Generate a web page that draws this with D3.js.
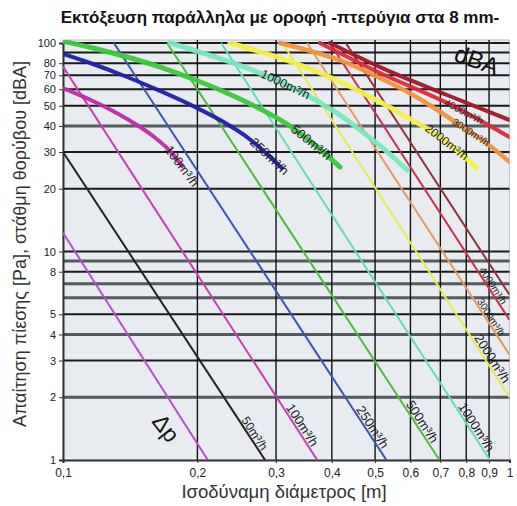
<!DOCTYPE html>
<html><head><meta charset="utf-8">
<script src="https://cdn.jsdelivr.net/npm/d3@7"></script>
<style>
body{margin:0;background:#fff;}
svg text{font-family:"Liberation Sans",Arial,sans-serif;}
</style></head><body>
<svg id="chart" width="517" height="506"></svg>
<script>
// ---- texts ----
const title = "Εκτόξευση παράλληλα με οροφή  -πτερύγια στα 8 mm-";
const xLabel = "Ισοδύναμη διάμετρος [m]";
const yLabel = "Απαίτηση πίεσης [Pa], στάθμη θορύβου [dBA]";

// ---- axes ----
const xTicks = [0.1, 0.2, 0.3, 0.4, 0.5, 0.6, 0.7, 0.8, 0.9, 1];
const xTickLabels = ["0,1", "0,2", "0,3", "0,4", "0,5", "0,6", "0,7", "0,8", "0,9", "1"];
const yGrid = [2, 3, 4, 5, 6, 7, 8, 9, 10, 20, 30, 40, 50, 60, 70, 80, 90, 100];
const yGridHeavy = [2, 4, 6, 7, 9, 40];
const yTickValues = [1, 2, 3, 4, 5, 8, 10, 20, 30, 40, 50, 60, 70, 80, 100];

// ---- pressure drop (straight lines): endpoints [diameter m, Pa] ----
const dpFlow   = ["", "50", "100", "250", "500", "1000", "2000", "3000", "4000", ""];
const dpStart  = [[0.1, 12.3], [0.1, 30], [0.1, 77], [0.130, 100], [0.171, 100], [0.226, 100], [0.310, 100], [0.352, 100], [0.396, 100], [0.430, 100]];
const dpEnd    = [[0.211, 1], [0.2835, 1], [0.371, 1], [0.530, 1], [0.697, 1], [0.904, 1], [1, 2.0], [1, 3.2], [1, 4.7], [1, 6.2]];
const dpColor  = ["#b44fd0", "#222222", "#c83cb4", "#3a55b4", "#4cbc3c", "#62dcb4", "#e8ea50", "#e49a64", "#c8304c", "#94303c"];
const dpLabelD = [null, 0.262, 0.334, 0.48, 0.62, 0.82, 0.89, 0.89, 0.90, null];
const dpLabelSize = [0, 12, 13, 13, 13, 13, 13, 10, 10, 0];

// ---- noise level curves [diameter m, dBA] ----
const dba100  = [[0.1, 60.8], [0.1167, 52.7], [0.1392, 43.2], [0.159, 35.8], [0.1737, 30.3], [0.1847, 25.7]];
const dba250  = [[0.1, 88.6], [0.1167, 79.3], [0.1392, 68.7], [0.165, 58.9], [0.1996, 48.8], [0.2329, 40.9], [0.2583, 35.4], [0.3093, 25.1]];
const dba500  = [[0.1, 102], [0.1167, 94.6], [0.1392, 85.7], [0.165, 76.7], [0.1955, 67.2], [0.2329, 57.6], [0.2763, 48.3], [0.3224, 40.0], [0.3667, 32.4], [0.4173, 25.4]];
const dba1000 = [[0.1737, 100], [0.2026, 90.5], [0.2366, 81.1], [0.272, 72.6], [0.3143, 63.6], [0.3575, 55.1], [0.4066, 46.7], [0.4625, 38.3], [0.5261, 30.7], [0.5897, 24.6]];
const dba2000 = [[0.2366, 100], [0.306, 84.8], [0.363, 74.2], [0.4325, 62.9], [0.5129, 52.1], [0.5895, 44.2], [0.7244, 33.5], [0.8453, 25.1]];
const dba3000 = [[0.306, 100], [0.4325, 80.2], [0.5129, 67.9], [0.6079, 56.3], [0.7627, 41.3], [0.8812, 33.5], [1.0, 26.9]];
const dba4000 = [[0.376, 100], [0.5129, 71.8], [0.7244, 51.6], [1.0, 35.4]];
const dba5000 = [[0.396, 100], [0.5129, 76.6], [0.7244, 56.3], [1.0, 42.7]];
const dbaCurves = [dba100, dba250, dba500, dba1000, dba2000, dba3000, dba4000, dba5000];
const dbaFlow   = ["100", "250", "500", "1000", "2000", "3000", "4000", ""];
const dbaColor  = ["#c02aa8", "#1c20a8", "#3cc83c", "#78e8bc", "#f2f04a", "#f0943c", "#e0283c", "#a81428"];
const dbaWidth  = [4, 4, 5, 5, 5, 4.5, 4, 4];
const dbaLabelX = [0.1895, 0.2900, 0.3600, 0.3150, 0.7244, 0.8200, 0.7900, null];
const dbaLabelSize = [13, 13, 13, 12.5, 12, 10, 10, 0];

// ---- layout ----
const svg = d3.select("#chart");
const x = d3.scaleLog().domain([0.1, 1]).range([63, 509.5]);
const y = d3.scaleLog().domain([1, 100]).range([460, 43]);
const [x0, x1] = x.range();
const [y0, y1] = y.range();

svg.append("defs").append("clipPath").attr("id", "plot")
  .append("rect").attr("x", x0).attr("y", y1 - 3).attr("width", x1 - x0).attr("height", y0 - y1 + 3);

// plot background and frame
svg.append("rect").attr("x", x0).attr("y", y1 - 3).attr("width", x1 - x0).attr("height", y0 - y1 + 3)
  .attr("fill", "#e8ecf0").attr("stroke", "#c4c8cc").attr("stroke-width", 1.2);

// horizontal grid
svg.append("g").selectAll("line").data(yGrid).join("line")
  .attr("x1", x0).attr("x2", x1)
  .attr("y1", d => y(d)).attr("y2", d => y(d))
  .attr("stroke", d => yGridHeavy.includes(d) ? "#555a5e" : "#1a1a1a")
  .attr("stroke-width", d => yGridHeavy.includes(d) ? 3 : 2);

// vertical grid (the right frame edge stays light)
svg.append("g").selectAll("line").data(xTicks.slice(1, -1)).join("line")
  .attr("x1", d => x(d)).attr("x2", d => x(d))
  .attr("y1", y1 - 3).attr("y2", y0)
  .attr("stroke", "#111").attr("stroke-width", 1.4);

// axes
const yAxis = d3.axisLeft(y).tickValues(yTickValues).tickFormat(d3.format("d")).tickSize(4).tickPadding(3);
const gy = svg.append("g").attr("transform", `translate(${x0},0)`).call(yAxis);
gy.select(".domain").attr("stroke", "#333").attr("stroke-width", 2);
gy.selectAll(".tick line").attr("stroke", "#333");
gy.selectAll("text").attr("font-size", 11).attr("fill", "#222").style("font-family", "Liberation Sans, Arial, sans-serif");

const xAxis = d3.axisBottom(x).tickValues(xTicks).tickFormat((d, i) => xTickLabels[i]).tickSize(3).tickPadding(5);
const gx = svg.append("g").attr("transform", `translate(0,${y0})`).call(xAxis);
gx.select(".domain").attr("stroke", "#333").attr("stroke-width", 2);
gx.selectAll(".tick line").attr("stroke", "#333");
gx.selectAll("text").attr("font-size", 12).attr("fill", "#222").style("font-family", "Liberation Sans, Arial, sans-serif");

const plot = svg.append("g").attr("clip-path", "url(#plot)");

// pressure drop lines
plot.append("g").selectAll("line").data(dpStart).join("line")
  .attr("x1", d => x(d[0])).attr("y1", d => y(d[1]))
  .attr("x2", (d, i) => x(dpEnd[i][0])).attr("y2", (d, i) => y(dpEnd[i][1]))
  .attr("stroke", (d, i) => dpColor[i]).attr("stroke-width", 2);

// noise curves
const line = d3.line().x(d => x(d[0])).y(d => y(d[1])).curve(d3.curveMonotoneX);
const paths = plot.append("g").selectAll("path").data(dbaCurves).join("path")
  .attr("d", line).attr("fill", "none")
  .attr("stroke", (d, i) => dbaColor[i]).attr("stroke-width", (d, i) => dbaWidth[i])
  .attr("stroke-linecap", "round").attr("opacity", 0.95);

// labels
const labels = plot.append("g").attr("fill", "#1e1e1e");

dpStart.forEach((s, i) => {
  if (!dpLabelD[i]) return;
  const e = dpEnd[i];
  const ax = x(s[0]), ay = y(s[1]), bx = x(e[0]), by = y(e[1]);
  const px = x(dpLabelD[i]);
  const t = (px - ax) / (bx - ax);
  const py = ay + t * (by - ay);
  const ang = Math.atan2(by - ay, bx - ax) * 180 / Math.PI;
  labels.append("text")
    .attr("transform", `translate(${px},${py}) rotate(${ang})`)
    .attr("text-anchor", "middle").attr("dy", "-0.15em")
    .attr("font-size", dpLabelSize[i])
    .text(dpFlow[i] + "m³/h");
});

paths.each(function (d, i) {
  if (!dbaLabelX[i]) return;
  const node = this, L = node.getTotalLength();
  const target = x(dbaLabelX[i]);
  let lo = 0, hi = L;
  for (let k = 0; k < 40; k++) {
    const mid = (lo + hi) / 2;
    if (node.getPointAtLength(mid).x < target) lo = mid; else hi = mid;
  }
  const p = node.getPointAtLength(lo);
  const pa = node.getPointAtLength(Math.max(0, lo - 6));
  const pb = node.getPointAtLength(Math.min(L, lo + 6));
  const ang = Math.atan2(pb.y - pa.y, pb.x - pa.x) * 180 / Math.PI;
  labels.append("text")
    .attr("transform", `translate(${p.x},${p.y}) rotate(${ang})`)
    .attr("text-anchor", "middle").attr("dy", "0.35em")
    .attr("font-size", dbaLabelSize[i])
    .text(dbaFlow[i] + "m³/h");
});

// series group marks
labels.append("text").attr("transform", "translate(474,68) rotate(20)")
  .attr("text-anchor", "middle").attr("font-size", 24).attr("fill", "#111").text("dBA");
labels.append("text").attr("transform", "translate(166,428) rotate(52)")
  .attr("text-anchor", "middle").attr("dy", "0.35em").attr("font-size", 23).attr("fill", "#111").text("Δp");

// titles
svg.append("text").attr("x", 280).attr("y", 23).attr("text-anchor", "middle")
  .attr("font-size", 17).attr("font-weight", "bold").attr("fill", "#111")
  .text(title);
svg.append("text").attr("x", 284).attr("y", 498).attr("text-anchor", "middle")
  .attr("font-size", 18.5).attr("fill", "#333").text(xLabel);
svg.append("text").attr("transform", "translate(26,244) rotate(-90)").attr("text-anchor", "middle")
  .attr("font-size", 18).attr("fill", "#333").text(yLabel);
</script>
</body></html>
